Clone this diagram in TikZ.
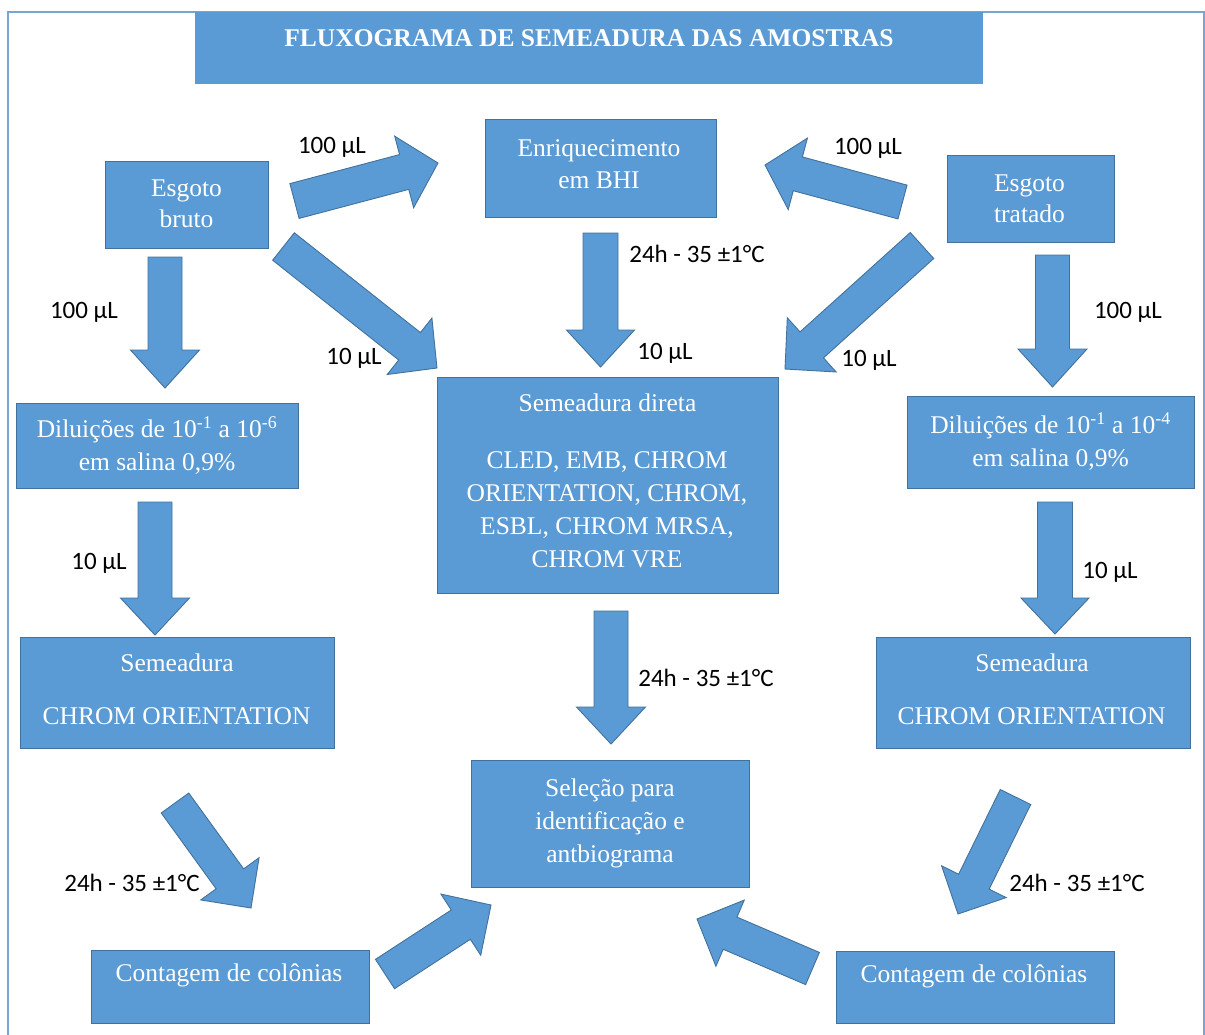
\documentclass[tikz,border=0pt]{standalone}
\usepackage{fontspec}
\setmainfont{Liberation Serif}
\newfontfamily\labfont{Carlito}
\usetikzlibrary{calc}
\definecolor{boxblue}{RGB}{91,155,213}
\definecolor{boxline}{RGB}{65,113,156}
\definecolor{framecol}{RGB}{120,165,210}
\newcommand\boxfont{\fontsize{25.5}{33}\selectfont}
\tikzset{
  box/.style={fill=boxblue, draw=boxline, line width=0.9pt, inner sep=0pt, text=white, align=center, font=\boxfont},
  boxtext/.style={text=white, align=center, font=\boxfont, inner sep=0pt},
  lab/.style={font=\labfont\fontsize{25}{30}\selectfont, text=black, inner sep=0pt},
  blockarrow/.style={fill=boxblue, draw=boxline, line width=0.9pt, line join=miter},
}
% #1 name, #2 tail, #3 tip, #4 shaft half width, #5 head half width, #6 head length
\newcommand\barrow[6]{%
  \coordinate (#1b) at ($(#3)!#6pt!(#2)$);
  \path[blockarrow] ($(#2)!#4pt!90:(#3)$) -- ($(#1b)!#4pt!90:(#3)$) -- ($(#1b)!#5pt!90:(#3)$) -- (#3)
    -- ($(#1b)!#5pt!-90:(#3)$) -- ($(#1b)!#4pt!-90:(#3)$) -- ($(#2)!#4pt!-90:(#3)$) -- cycle;}
\begin{document}
\begin{tikzpicture}[x=1pt,y=-1pt]
\useasboundingbox (0,0) rectangle (1205,1034);
% frame
\draw[framecol, line width=1.2pt] (8,1040) -- (8,12) -- (1204,12) -- (1204,1040);
% title
\node[fill=boxblue, minimum width=788pt, minimum height=72pt, inner sep=0pt] (title) at (589,48) {};
\node[boxtext, font=\boxfont\bfseries] (titletext) at (589,38) {FLUXOGRAMA DE SEMEADURA DAS AMOSTRAS};
% boxes
\node[box, minimum width=163pt, minimum height=87pt] (ebruto) at (186.5,204.5) {};
\node[boxtext, font=\fontsize{25.5}{31}\selectfont] (ebrutot) at (186.5,203.5) {Esgoto\\bruto};
\node[box, minimum width=167pt, minimum height=87pt] (etratado) at (1030.5,198.5) {};
\node[boxtext, font=\fontsize{25.5}{31}\selectfont] (etratadot) at (1029.5,199) {Esgoto\\tratado};
\node[box, minimum width=231pt, minimum height=98pt] (enriq) at (600.5,168) {};
\node[boxtext, font=\fontsize{25.5}{32}\selectfont] (enriqt) at (599,164.5) {Enriquecimento\\em BHI};
\node[box, minimum width=341pt, minimum height=216pt] (sdireta) at (607.5,485) {};
\node[boxtext] (sdiretatitle) at (607.5,403) {Semeadura direta};
\node[boxtext] (sdiretalist) at (607,510) {CLED, EMB, CHROM\\ORIENTATION, CHROM,\\ESBL, CHROM MRSA,\\CHROM VRE};
\node[box, minimum width=282pt, minimum height=85pt] (dilL) at (157,445.5) {Diluições de 10\textsuperscript{-1} a 10\textsuperscript{-6}\\em salina 0,9\%};
\node[box, minimum width=287pt, minimum height=92pt] (dilR) at (1050.5,442) {Diluições de 10\textsuperscript{-1} a 10\textsuperscript{-4}\\em salina 0,9\%};
\node[box, minimum width=314pt, minimum height=111pt] (semL) at (177,692.5) {};
\node[boxtext] (semLa) at (177,663) {Semeadura};
\node[boxtext] (semLb) at (176.5,716) {CHROM ORIENTATION};
\node[box, minimum width=314pt, minimum height=111pt] (semR) at (1033,692.5) {};
\node[boxtext] (semRa) at (1032,663) {Semeadura};
\node[boxtext] (semRb) at (1031.5,716) {CHROM ORIENTATION};
\node[box, minimum width=278pt, minimum height=127pt] (selecao) at (610,823.5) {Seleção para\\identificação e\\antbiograma};
\node[box, minimum width=278pt, minimum height=73pt] (contL) at (230,986.5) {};
\node[boxtext] (contLt) at (229,975) {Contagem de colônias};
\node[box, minimum width=278pt, minimum height=72pt] (contR) at (975,987) {};
\node[boxtext] (contRt) at (974,976) {Contagem de colônias};
% arrow end points
\coordinate (a1t) at (294.5,201);  \coordinate (a1h) at (438,163);
\coordinate (a2t) at (283.5,246.5); \coordinate (a2h) at (437,368);
\coordinate (a3t) at (600.5,233);  \coordinate (a3h) at (600.5,367);
\coordinate (a4t) at (902.5,202);  \coordinate (a4h) at (765,165);
\coordinate (a5t) at (922,245.5);  \coordinate (a5h) at (785,369);
\coordinate (a6t) at (165,257);    \coordinate (a6h) at (165,388);
\coordinate (a7t) at (1052.5,255); \coordinate (a7h) at (1052.5,387);
\coordinate (a8t) at (155,502);    \coordinate (a8h) at (155,635);
\coordinate (a9t) at (1055,502);   \coordinate (a9h) at (1055,634);
\coordinate (a10t) at (611,611);   \coordinate (a10h) at (611,744);
\coordinate (a11t) at (175,803);   \coordinate (a11h) at (251,908);
\coordinate (a12t) at (385,974);   \coordinate (a12h) at (491,905);
\coordinate (a13t) at (1015.5,797); \coordinate (a13h) at (958,914);
\coordinate (a14t) at (812.5,968.5); \coordinate (a14h) at (697,919);
% arrows
\barrow{a1}{a1t}{a1h}{18}{37}{35}
\barrow{a2}{a2t}{a2h}{17.5}{36}{35}
\barrow{a3}{a3t}{a3h}{17.5}{34}{37}
\barrow{a4}{a4t}{a4h}{17.5}{37}{34}
\barrow{a5}{a5t}{a5h}{17.5}{36.5}{36}
\barrow{a6}{a6t}{a6h}{17}{34.5}{38}
\barrow{a7}{a7t}{a7h}{17}{34.5}{38}
\barrow{a8}{a8t}{a8h}{17}{34.5}{37}
\barrow{a9}{a9t}{a9h}{17.5}{34}{36}
\barrow{a10}{a10t}{a10h}{17}{34.5}{37}
\barrow{a11}{a11t}{a11h}{17}{36}{36}
\barrow{a12}{a12t}{a12h}{17.5}{36.5}{36}
\barrow{a13}{a13t}{a13h}{17}{36}{36}
\barrow{a14}{a14t}{a14h}{17.5}{36}{36}
% labels
\node[lab] (l1) at (332,147) {100 µL};
\node[lab] (l2) at (354,358) {10 µL};
\node[lab] (l3) at (697,254) {24h - 35 ±1°C};
\node[lab] (l4) at (665,353) {10 µL};
\node[lab] (l5) at (868,148) {100 µL};
\node[lab] (l6) at (869,360) {10 µL};
\node[lab] (l7) at (84,312) {100 µL};
\node[lab] (l8) at (1128,312) {100 µL};
\node[lab] (l9) at (99,563) {10 µL};
\node[lab] (l10) at (1110,572) {10 µL};
\node[lab] (l11) at (706,678) {24h - 35 ±1°C};
\node[lab] (l12) at (132,883) {24h - 35 ±1°C};
\node[lab] (l13) at (1077,883) {24h - 35 ±1°C};
\end{tikzpicture}
\end{document}
